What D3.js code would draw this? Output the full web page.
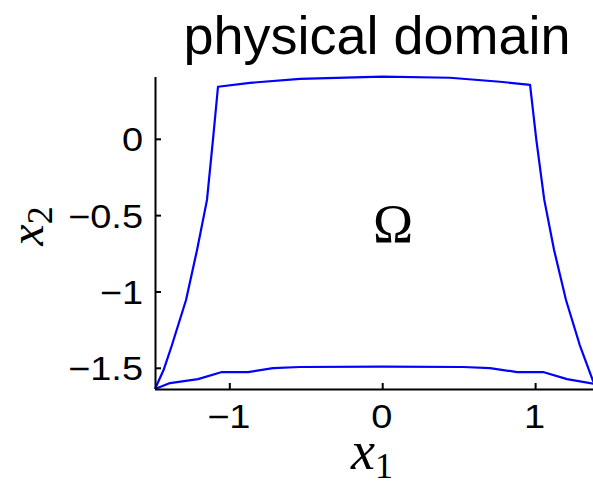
<!DOCTYPE html>
<html>
<head>
<meta charset="utf-8">
<script src="https://cdn.jsdelivr.net/npm/d3@7"></script>
<style>
  html, body { margin: 0; padding: 0; background: #fff; }
  svg { display: block; }
</style>
</head>
<body>
<svg id="chart" width="593" height="487"></svg>
<script>
// Boundary of the physical domain, traced counter-clockwise from the bottom-left corner.
const boundaryX1 = [
  -1.486, -1.388, -1.205, -1.048, -0.878, -0.714, -0.538, 0.000, 0.528, 0.705, 0.882, 1.052, 1.209, 1.398,
  1.379, 1.292, 1.202, 1.124, 1.060, 1.008, 0.967,
  0.770, 0.443, 0.000, -0.538, -0.865, -1.074,
  -1.107, -1.146, -1.211, -1.283, -1.375, -1.430, -1.486
];
const boundaryX2 = [
  -1.639, -1.600, -1.574, -1.528, -1.528, -1.502, -1.495, -1.492, -1.495, -1.502, -1.528, -1.528, -1.574, -1.607,
  -1.587, -1.351, -1.056, -0.728, -0.400, -0.007, 0.354,
  0.374, 0.400, 0.407, 0.393, 0.367, 0.341,
  -0.007, -0.400, -0.728, -1.056, -1.351, -1.515, -1.639
];
const xTicks = [-1, 0, 1];
const yTicks = [0, -0.5, -1, -1.5];
const xLimits = [-1.486, 1.486];
const yLimits = [-1.639, 0.405];

const svg = d3.select("#chart");
const plotLeft = 155, plotBottom = 389, plotTop = 77;
const unit = 152.9;
const tickFont = "'Liberation Sans', Arial, Helvetica, sans-serif";
const tickSize = 33, tickStretch = 1.15;

const x = d3.scaleLinear().domain(xLimits).range([plotLeft, plotLeft + (xLimits[1] - xLimits[0]) * unit]);
const y = d3.scaleLinear().domain(yLimits).range([plotBottom, plotTop]);

const fmt = d => (d < 0 ? "\u2212" + Math.abs(d) : String(d));

// Domain boundary
const pts = boundaryX1.map((v, i) => [v, boundaryX2[i]]);
svg.append("path")
  .attr("d", d3.line().x(d => x(d[0])).y(d => y(d[1]))(pts))
  .attr("fill", "none")
  .attr("stroke", "#0000ff")
  .attr("stroke-width", 2.2)
  .attr("stroke-linejoin", "round");

// Axes
const xAxis = d3.axisBottom(x).tickValues(xTicks).tickFormat(fmt).tickSize(-6);
const yAxis = d3.axisLeft(y).tickValues(yTicks).tickFormat(fmt).tickSize(-6);

const gx = svg.append("g").attr("transform", `translate(0,${plotBottom})`).call(xAxis);
const gy = svg.append("g").attr("transform", `translate(${plotLeft},0)`).call(yAxis);

[gx, gy].forEach(g => {
  g.select(".domain").attr("stroke", "#000").attr("stroke-width", 2);
  g.selectAll(".tick line").attr("stroke", "#000").attr("stroke-width", 2);
  g.selectAll(".tick text")
    .attr("font-family", tickFont)
    .attr("font-size", tickSize)
    .attr("fill", "#000")
    .attr("x", 0).attr("y", 0).attr("dy", null);
});
// Tick labels are drawn slightly wide, anchored at their tick
gx.selectAll(".tick text")
  .attr("text-anchor", "middle")
  .attr("transform", `translate(-1,39) scale(${tickStretch},1)`);
gy.selectAll(".tick text")
  .attr("text-anchor", "end")
  .attr("transform", `translate(-12,12) scale(${tickStretch},1)`);

gy.select(".domain").attr("d", `M0.5,${plotBottom}V${plotTop}`);
gx.select(".domain").attr("d", `M${plotLeft},0.5H${x(xLimits[1])}`);

// Title
svg.append("text")
  .attr("x", 377).attr("y", 54)
  .attr("text-anchor", "middle")
  .attr("font-family", tickFont)
  .attr("font-size", 54)
  .text("physical domain");

// Axis labels
const mathFont = "'Liberation Serif', 'DejaVu Serif', serif";
const xl = svg.append("text")
  .attr("x", 372).attr("y", 469)
  .attr("text-anchor", "middle")
  .attr("font-family", mathFont)
  .attr("font-size", 54);
xl.append("tspan").attr("font-style", "italic").text("x");
xl.append("tspan").attr("font-size", 36).attr("dy", 9).text("1");

const yl = svg.append("text")
  .attr("transform", "translate(43,226) rotate(-90)")
  .attr("text-anchor", "middle")
  .attr("font-family", mathFont)
  .attr("font-size", 48);
yl.append("tspan").attr("font-style", "italic").text("x");
yl.append("tspan").attr("font-size", 36).attr("dy", 9).text("2");

// Region label
svg.append("text")
  .attr("x", 393).attr("y", 242)
  .attr("text-anchor", "middle")
  .attr("font-family", mathFont)
  .attr("font-size", 54)
  .text("\u03A9");
</script>
</body>
</html>
